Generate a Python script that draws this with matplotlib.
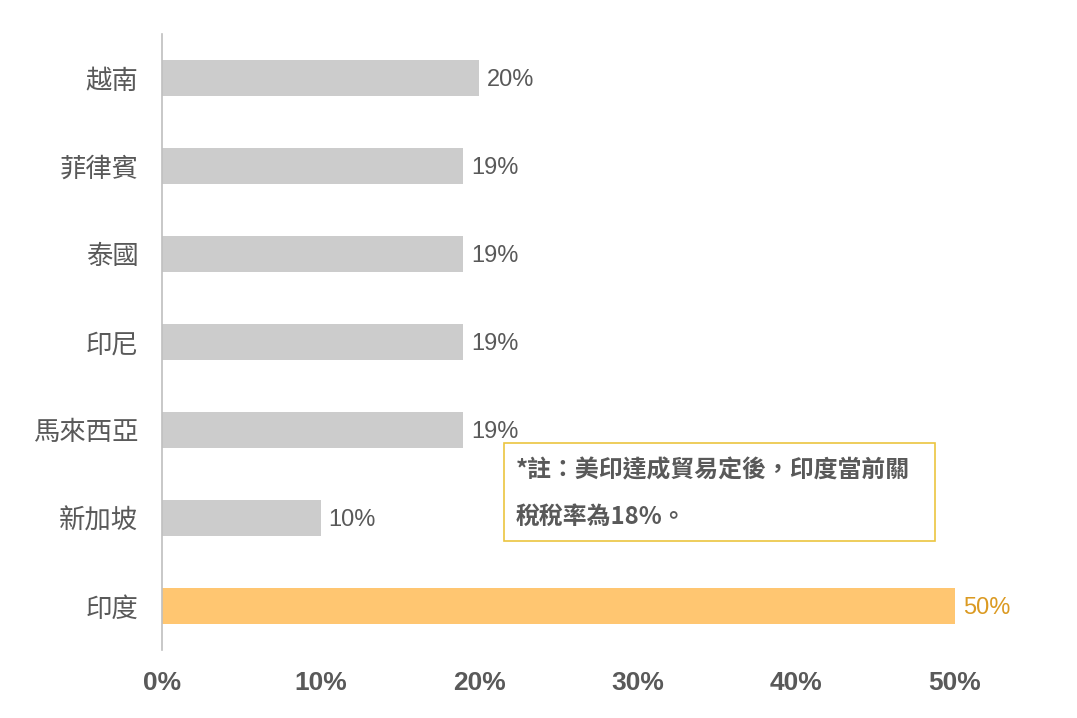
import matplotlib
matplotlib.use("Agg")
import matplotlib.pyplot as plt
from matplotlib.patches import Rectangle

categories = ["越南", "菲律賓", "泰國", "印尼", "馬來西亞", "新加坡", "印度"]
values = [20, 19, 19, 19, 19, 10, 50]
highlight = "印度"
xticks = [0, 10, 20, 30, 40, 50]
xtick_labels = ["0%", "10%", "20%", "30%", "40%", "50%"]
note_lines = ["*註：美印達成貿易定後，印度當前關", "稅稅率為18%。"]

GRAY_BAR = "#CCCCCC"
ORANGE_BAR = "#FFC671"
ORANGE_TXT = "#DB9A22"
TXT = "#595959"

fig = plt.figure(figsize=(10.77, 7.18), dpi=100)
ax = fig.add_axes([162/1077, 1-650/718, (955-162)/1077, (650-34)/718])

ypos = list(range(len(categories)))
colors = [ORANGE_BAR if c == highlight else GRAY_BAR for c in categories]
ax.barh(ypos, values, height=0.42, color=colors, zorder=2)
ax.set_ylim(len(categories)-0.5, -0.5)
ax.set_xlim(0, 50)

for y, v, c in zip(ypos, values, categories):
    ax.annotate(f"{v}%", xy=(v, y), xytext=(5.5, -1.5), textcoords="offset points",
                va="center", ha="left", fontsize=17,
                family=["Liberation Sans", "Noto Sans CJK TC"],
                color=ORANGE_TXT if c == highlight else TXT)

ax.set_yticks(ypos)
ax.set_yticklabels(categories, family=["Noto Sans CJK TC"], fontsize=19, color=TXT)
ax.set_xticks(xticks)
ax.set_xticklabels(xtick_labels, family=["Liberation Sans"], fontsize=19,
                   fontweight="bold", color=TXT)
ax.tick_params(axis="both", length=0)
ax.tick_params(axis="y", pad=17)
ax.tick_params(axis="x", pad=15)
for s in ["top", "right", "bottom"]:
    ax.spines[s].set_visible(False)
ax.spines["left"].set_color("#BFBFBF")
ax.spines["left"].set_linewidth(1.2)

# note box
fig.patches.append(Rectangle((504/1077, 1-541/718), 431/1077, 98/718,
                             transform=fig.transFigure, facecolor="white",
                             edgecolor="#EBC53F", linewidth=1.2, zorder=5))
fig.text(516/1077, 1-470/718, note_lines[0], family=["Noto Sans CJK TC"],
         fontsize=17.2, fontweight="bold", color=TXT, va="center", ha="left", zorder=6)
fig.text(516/1077, 1-517/718, note_lines[1], family=["Noto Sans CJK TC"],
         fontsize=17.2, fontweight="bold", color=TXT, va="center", ha="left", zorder=6)

fig.savefig("out.png", dpi=100, facecolor="white")
